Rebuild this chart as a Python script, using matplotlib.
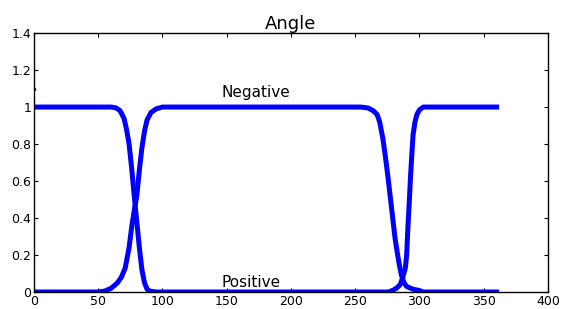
import numpy as np
import matplotlib
import matplotlib.pyplot as plt

matplotlib.rcParams["font.family"] = ["DejaVu Sans"]

# curve that is 1 outside the two crossings (labelled "Positive" near 0)
angle_pos = [0, 60, 64, 67, 70, 72, 74, 76, 78, 80, 82, 84, 86, 88, 90, 95,
             250, 276, 279.5, 282, 285, 287, 289, 290, 291, 292, 293, 294,
             295, 296.5, 298, 300, 303, 310, 360]
value_pos = [1, 1, 0.995, 0.98, 0.94, 0.88, 0.80, 0.67, 0.52, 0.38, 0.24, 0.12,
             0.05, 0.015, 0.005, 0,
             0, 0, 0.01, 0.02, 0.04, 0.08, 0.13, 0.2, 0.35, 0.48, 0.62, 0.74,
             0.85, 0.92, 0.96, 0.985, 1, 1, 1]

# curve that is 1 between the crossings (labelled "Negative")
angle_neg = [0, 50, 55, 60, 65, 68, 71, 74, 76, 78, 80, 82, 84, 86, 88, 91,
             95, 100, 254, 260, 264, 267, 269, 271.5, 273.5, 275.5, 277.5,
             279.5, 281, 283, 284.5, 286, 288, 290, 295, 300, 303, 360]
value_neg = [0, 0, 0.005, 0.02, 0.05, 0.08, 0.13, 0.24, 0.35, 0.44, 0.52, 0.66,
             0.78, 0.87, 0.93, 0.97, 0.99, 1, 1, 0.995, 0.98, 0.96, 0.92, 0.83,
             0.73, 0.62, 0.5, 0.38, 0.29, 0.2, 0.14, 0.09, 0.05, 0.03, 0.015,
             0.008, 0, 0]

xticks = [0, 50, 100, 150, 200, 250, 300, 350, 400]
yticks = [0, 0.2, 0.4, 0.6, 0.8, 1, 1.2, 1.4]
ylabels = ["0", "0.2", "0.4", "0.6", "0.8", "1", "1.2", "1.4"]

fig = plt.figure(figsize=(5.61, 3.09), dpi=100)
ax = fig.add_axes([0.0606, 0.055, 0.9162, 0.838])

ax.plot(angle_pos, value_pos, color="#0000ff", lw=3.6, solid_joinstyle="round")
ax.plot(angle_neg, value_neg, color="#0000ff", lw=3.6, solid_joinstyle="round")
ax.plot([0], [1.1], ".", color="#0000ff", ms=3)

ax.text(146, 1.08, "Negative", fontsize=11, va="center", ha="left")
ax.text(146, 0.05, "Positive", fontsize=11, va="center", ha="left")

ax.set_xlim(0, 400)
ax.set_ylim(0, 1.4)
ax.set_xticks(xticks)
ax.set_xticklabels([str(t) for t in xticks])
ax.set_yticks(yticks)
ax.set_yticklabels(ylabels)
ax.tick_params(direction="in", length=3, width=0.8, labelsize=9,
               top=True, right=True, pad=2)
for s in ax.spines.values():
    s.set_linewidth(1.0)
ax.set_title("Angle", fontsize=13, pad=3)

plt.savefig("out.png", dpi=100)
